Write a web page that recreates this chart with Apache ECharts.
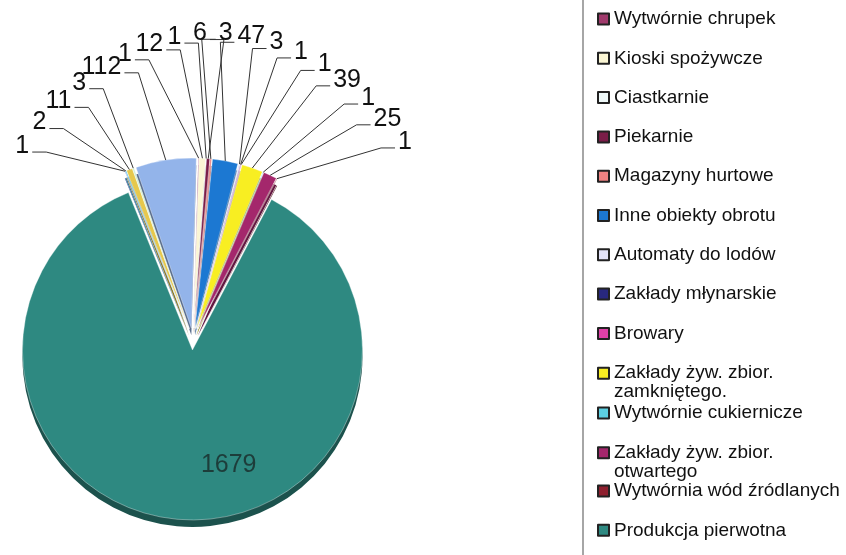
<!DOCTYPE html>
<html>
<head>
<meta charset="utf-8">
<script src="https://cdn.jsdelivr.net/npm/echarts@6/dist/echarts.min.js"></script>
<style>html,body{margin:0;padding:0;background:#fff}#c{width:846px;height:555px}</style>
</head>
<body>
<div id="c"></div>
<script>
// slice names (first and last four entries are cut off in the reference legend)
const names = ['Pozycja 1', 'Wytwórnie chrupek', 'Kioski spożywcze', 'Ciastkarnie', 'Piekarnie',
  'Magazyny hurtowe', 'Inne obiekty obrotu', 'Automaty do lodów', 'Zakłady młynarskie', 'Browary',
  'Zakłady żyw. zbior. zamkniętego.', 'Wytwórnie cukiernicze', 'Zakłady żyw. zbior. otwartego',
  'Wytwórnia wód źródlanych', 'Produkcja pierwotna', 'Pozycja 16', 'Pozycja 17', 'Pozycja 18', 'Pozycja 19'];
const values = [112, 1, 12, 1, 6, 3, 47, 3, 1, 1, 39, 1, 25, 1, 1679, 1, 2, 11, 3];
const colors = ['#93b4ea', '#a03a6c', '#fbf6d4', '#eef8f8', '#7a1d48', '#ee8282', '#1c78d2', '#e2e2f8',
  '#28287e', '#e040a8', '#f8ee22', '#5cd0e2', '#a4276c', '#8e1f2e', '#2e8981', '#3050e0', '#40bff0',
  '#e6c84c', '#cfeecf'];
// legend groups (wrapped names overlap the following entry, as in the reference)
const legendGroupA = names.slice(1, 11);
const legendGroupB = names.slice(11, 13);
const legendGroupC = names.slice(13, 15);

const CX = 193, CY = 339, R = 170, OFF = 11, START = 109;
const total = values.reduce((a, b) => a + b, 0);
const bigIdx = values.indexOf(Math.max(...values));
const mids = [];
let acc = 90 - START;
values.forEach(v => { const s = v / total * 360; mids.push(acc + s / 2); acc += s; });
const norm = a => { a = ((a % 360) + 360) % 360; return a > 180 ? a - 360 : a; };
const order = values.map((v, i) => i).filter(i => i !== bigIdx).sort((a, b) => norm(mids[a]) - norm(mids[b]));
const rank = {};
order.forEach((idx, k) => { rank[idx] = k; });

function darken(hex, f) {
  const n = parseInt(hex.slice(1), 16);
  const r = Math.round(((n >> 16) & 255) * f), g = Math.round(((n >> 8) & 255) * f), b = Math.round((n & 255) * f);
  return 'rgb(' + r + ',' + g + ',' + b + ')';
}

const mainData = values.map((v, i) => ({ name: names[i], value: v, selected: true, itemStyle: { color: colors[i] } }));
const depthData = values.map((v, i) => ({ name: names[i], value: v, selected: true,
  itemStyle: { color: darken(colors[i], 0.6) } }));
const labelData = values.map((v, i) => {
  const d = { name: names[i], value: v };
  if (i === bigIdx) d.label = { position: 'inside', color: '#1d3d3a' };
  return d;
});

const FONT = 'Liberation Sans, Arial, sans-serif';
const wrapRe = /^(Zakłady żyw\. zbior\.) (.*)$/;
function legendOf(data, top, h) {
  return {
    data: data,
    orient: 'vertical', left: 592, top: top, height: h,
    itemWidth: 11, itemHeight: 11, itemGap: 19.3, icon: 'rect', selectedMode: false,
    itemStyle: { borderColor: '#222', borderWidth: 2 },
    textStyle: { fontFamily: FONT, fontSize: 19, color: '#111', lineHeight: 20,
      rich: { a: { fontFamily: FONT, fontSize: 19, lineHeight: 20, color: '#111' },
              b: { fontFamily: FONT, fontSize: 19, lineHeight: 1, verticalAlign: 'top', color: '#111' } } },
    formatter: function (n) {
      const m = n.match(wrapRe);
      return m ? '{a|' + m[1] + '}\n{b|' + m[2] + '}' : '{a|' + n + '}';
    }
  };
}

const chart = echarts.init(document.getElementById('c'), null, { renderer: 'canvas' });
chart.setOption({
  backgroundColor: '#fff',
  animation: false,
  legend: [legendOf(legendGroupA, 4, 500), legendOf(legendGroupB, 398, 150), legendOf(legendGroupC, 476, 150)],
  graphic: [{ type: 'line', shape: { x1: 583, y1: 0, x2: 583, y2: 555 }, style: { stroke: '#888', lineWidth: 1.5 } }],
  series: [{
    type: 'pie', z: 2, silent: true,
    center: [CX, CY], radius: R, startAngle: START, clockwise: true,
    selectedMode: 'multiple', selectedOffset: OFF,
    emphasis: { disabled: true },
    itemStyle: { borderColor: 'rgba(255,255,255,0.7)', borderWidth: 0.5 },
    label: { show: false }, labelLine: { show: false },
    data: mainData
  }, {
    type: 'pie', z: 1, silent: true,
    center: [CX, CY + 7], radius: R, startAngle: START, clockwise: true,
    selectedMode: 'multiple', selectedOffset: OFF,
    label: { show: false }, labelLine: { show: false },
    emphasis: { disabled: true },
    data: depthData
  }, {
    type: 'pie', z: 3, silent: true,
    center: [CX, CY], radius: R, startAngle: START, clockwise: true,
    avoidLabelOverlap: false,
    emphasis: { disabled: true },
    itemStyle: { color: 'rgba(0,0,0,0)' },
    label: { show: true, formatter: '{c}', fontFamily: FONT, fontSize: 25, color: '#111' },
    labelLine: { show: true, length: 10, length2: 10, lineStyle: { color: '#333', width: 1 } },
    labelLayout: function (p) {
      const i = p.dataIndex;
      if (i === bigIdx) return { dx: 40, dy: 38 };
      const n = order.length;
      const th = (-51 + rank[i] * 101 / (n - 1)) * Math.PI / 180;
      const lx = 215 + 248 * Math.sin(th), ly = 338 - 305 * Math.cos(th);
      const a = mids[i] * Math.PI / 180;
      const ex = CX + (R + OFF) * Math.sin(a), ey = CY - (R + OFF) * Math.cos(a);
      const w = p.labelRect.width;
      const side = th < 0 ? 1 : -1;
      const endX = lx + side * (w / 2 + 3), endY = ly + 6;
      const elbX = endX + side * 14;
      return { x: lx, y: ly, align: 'center', verticalAlign: 'middle',
        labelLinePoints: [[ex, ey], [elbX, endY], [endX, endY]] };
    },
    data: labelData
  }]
});
</script>
</body>
</html>
